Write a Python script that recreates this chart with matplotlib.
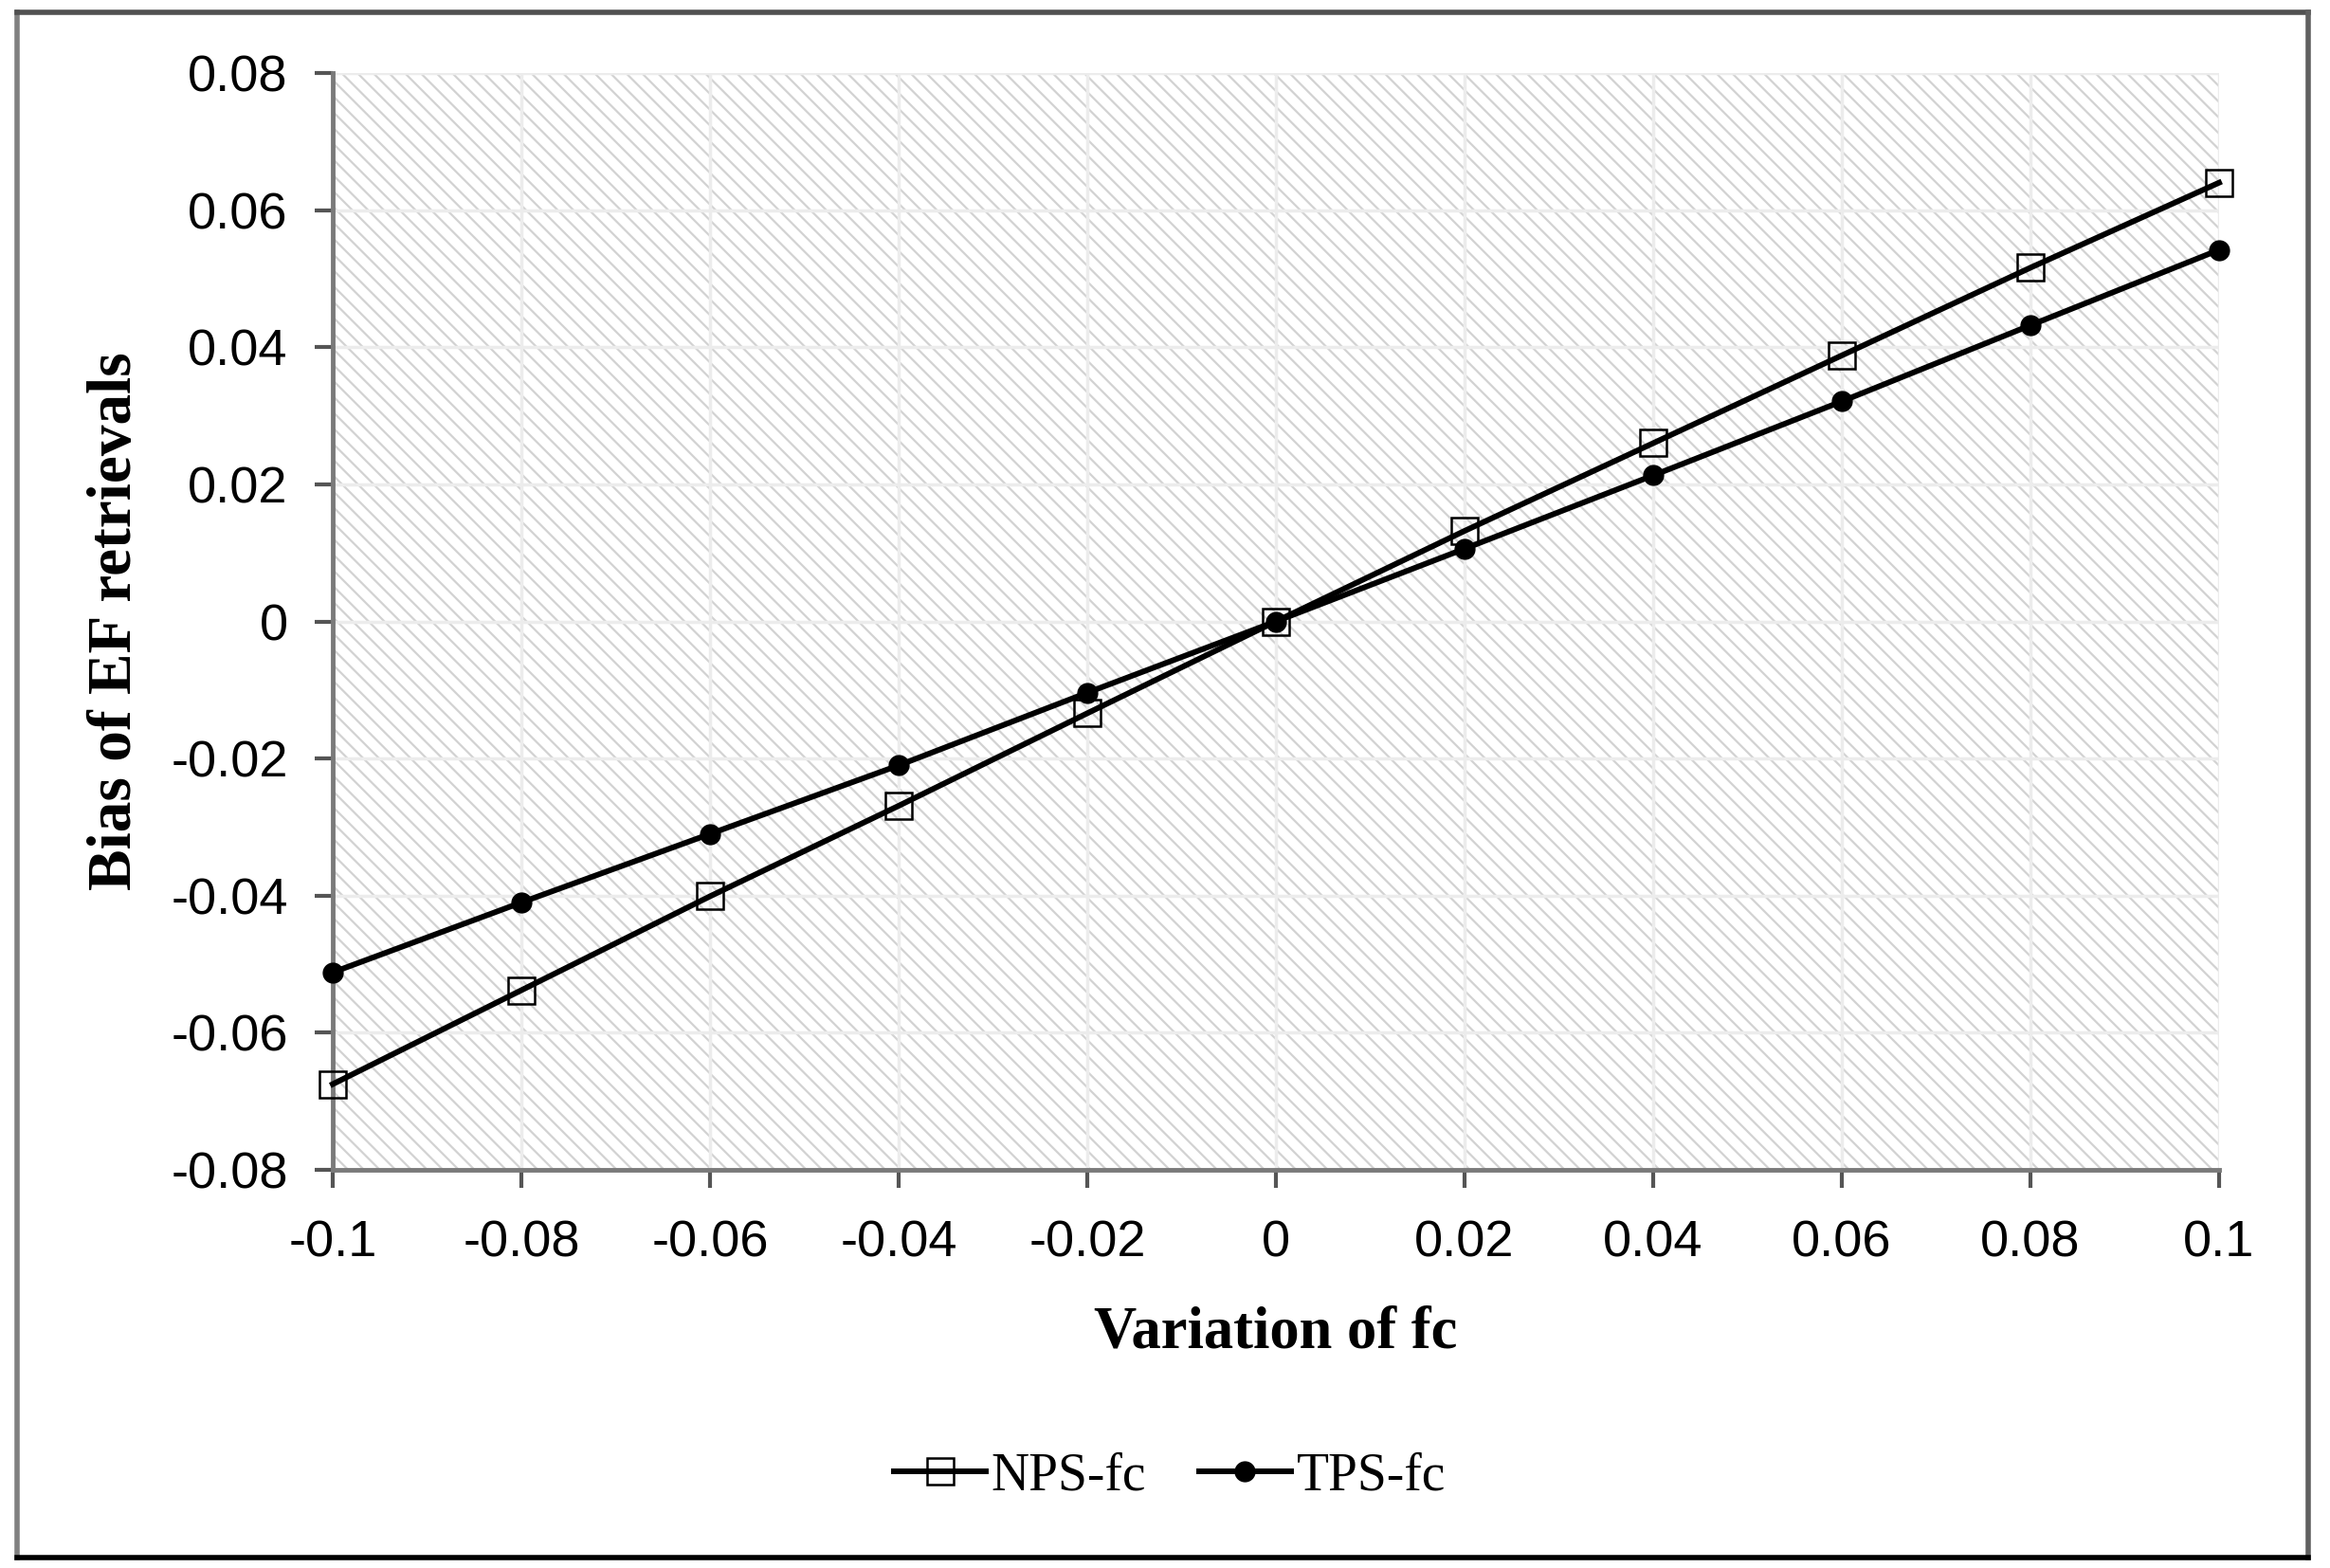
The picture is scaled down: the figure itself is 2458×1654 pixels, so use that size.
import matplotlib
matplotlib.use("Agg")
import matplotlib.pyplot as plt
from matplotlib.patches import Rectangle
from matplotlib.lines import Line2D

# ---- data ----
variation = [-0.1, -0.08, -0.06, -0.04, -0.02, 0.0, 0.02, 0.04, 0.06, 0.08, 0.1]
nps_fc = [-0.0675, -0.0538, -0.0401, -0.0269, -0.0134, 0.0, 0.0132, 0.0260, 0.0388, 0.0516, 0.0640]
tps_fc = [-0.0512, -0.0410, -0.0310, -0.0210, -0.0104, 0.0, 0.0106, 0.0213, 0.0321, 0.0432, 0.0542]
xticks = [-0.1, -0.08, -0.06, -0.04, -0.02, 0, 0.02, 0.04, 0.06, 0.08, 0.1]
xtick_labels = ["-0.1", "-0.08", "-0.06", "-0.04", "-0.02", "0", "0.02", "0.04", "0.06", "0.08", "0.1"]
yticks = [-0.08, -0.06, -0.04, -0.02, 0, 0.02, 0.04, 0.06, 0.08]
ytick_labels = ["-0.08", "-0.06", "-0.04", "-0.02", "0", "0.02", "0.04", "0.06", "0.08"]

W, H = 2458, 1654
fig = plt.figure(figsize=(W / 100, H / 100), dpi=100)
fig.patch.set_facecolor("white")

ax = fig.add_axes([351 / W, 1 - 1234 / H, (2341 - 351) / W, (1234 - 77) / H])
ax.set_xlim(-0.1, 0.1)
ax.set_ylim(-0.08, 0.08)
ax.patch.set_facecolor("white")

plt.rcParams["hatch.linewidth"] = 1.6
bg = Rectangle((0, 0), 1, 1, transform=ax.transAxes, facecolor="white",
               edgecolor="#d2d2d2", hatch="\\\\", lw=0, zorder=0)
ax.add_patch(bg)

ax.set_xticks(xticks)
ax.set_xticklabels(xtick_labels)
ax.set_yticks(yticks)
ax.set_yticklabels(ytick_labels)
ax.grid(True, color="#ececec", lw=2.5, zorder=0.5)
ax.set_axisbelow(True)

for s in ["top", "right"]:
    ax.spines[s].set_visible(False)
for s in ["left", "bottom"]:
    ax.spines[s].set_color("#7a7a7a")
    ax.spines[s].set_linewidth(3.5)

tick_family = ["Liberation Sans", "DejaVu Sans"]
for lab in ax.get_xticklabels() + ax.get_yticklabels():
    lab.set_fontfamily(tick_family)
    lab.set_fontsize(39)
ax.tick_params(axis="y", length=14, width=3, color="#555555", pad=20)
ax.tick_params(axis="x", length=14, width=3, color="#555555", pad=24)

ax.plot(variation, nps_fc, color="black", lw=4.3, marker="s", markersize=20,
        markerfacecolor="none", markeredgecolor="black", markeredgewidth=1.8,
        label="NPS-fc", zorder=3, clip_on=False)
ax.plot(variation, tps_fc, color="black", lw=4.3, marker="o", markersize=15,
        markerfacecolor="black", markeredgecolor="black",
        label="TPS-fc", zorder=3, clip_on=False)

serif = ["Liberation Serif", "DejaVu Serif"]
fig.text(1346 / W, 1 - 1406 / H, "Variation of fc",
         ha="center", va="center", fontsize=45, fontweight="bold", family=serif)
fig.text(122 / W, 1 - 655 / H, "Bias of EF retrievals", ha="center", va="center",
         rotation=90, fontsize=47, fontweight="bold", family=serif)

leg = fig.legend(loc="center", bbox_to_anchor=(1234 / W, 1 - 1557 / H), ncol=2,
                 frameon=False, prop=dict(family=serif, size=40),
                 handlelength=1.75, handletextpad=0.1, columnspacing=1.0)

# outer frame
fig.add_artist(Line2D([18 / W, 18 / W], [11 / H, 1 - 13 / H], color="#808080", lw=4))
fig.add_artist(Line2D([18 / W, 2435 / W], [1 - 13 / H, 1 - 13 / H], color="#505050", lw=4))
fig.add_artist(Line2D([2435 / W, 2435 / W], [11 / H, 1 - 13 / H], color="#606060", lw=4))
fig.add_artist(Line2D([18 / W, 2435 / W], [11 / H, 11 / H], color="black", lw=4))

fig.savefig("out.png", dpi=100, facecolor="white")
